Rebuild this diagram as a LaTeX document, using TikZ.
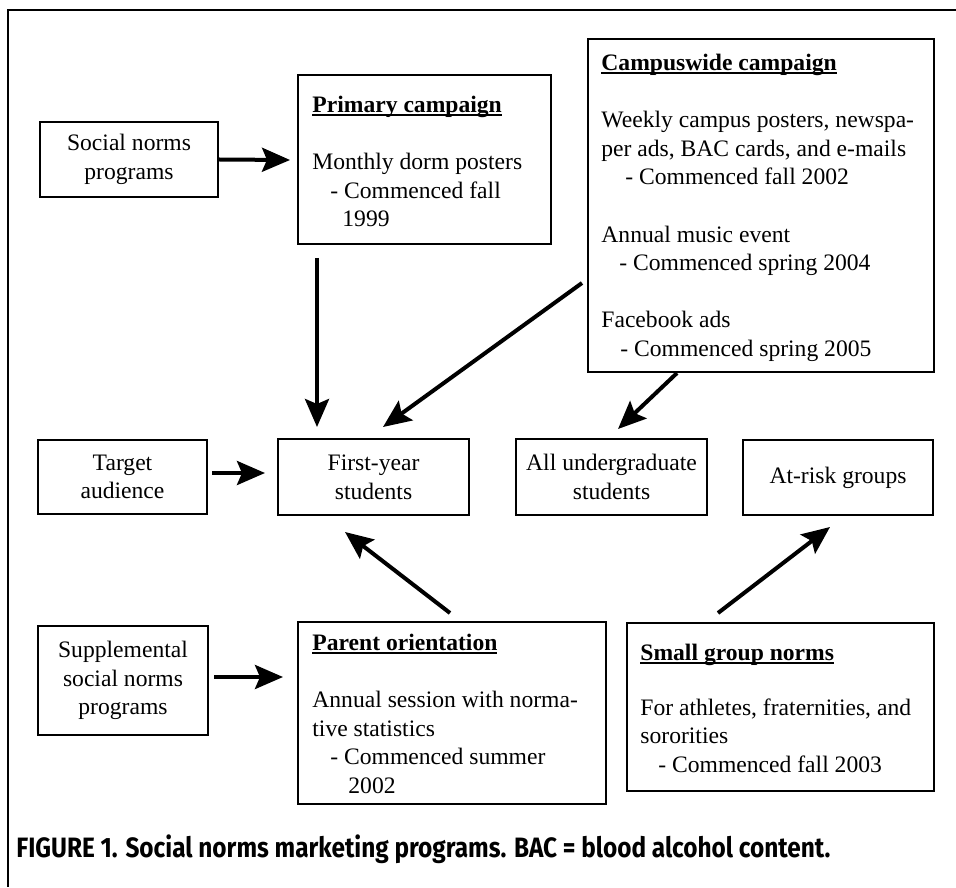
\documentclass[tikz,border=0pt]{standalone}
\usepackage{fontspec}
\setmainfont{Liberation Serif}
\newfontfamily\capfont{Fira Sans}
\usetikzlibrary{arrows.meta}
\newcommand\myul[1]{\setbox0\hbox{#1}\rlap{\rule[-1.6pt]{\wd0}{0.6pt}}\box0}
\begin{document}
\begin{tikzpicture}[x=0.5pt,y=-0.5pt,
  every node/.style={font=\fontsize{11.8}{14.3}\selectfont},
  box/.style={draw, line width=1.2pt, inner sep=0pt, align=center},
  txt/.style={anchor=north west, inner sep=0pt, align=left},
  arr/.style={line width=2pt, -{Stealth[length=14pt,width=12pt,inset=2.5pt]}}]
\useasboundingbox (0,0) rectangle (956,887);
% frame
\coordinate (ftr) at (956,10);
\coordinate (ftl) at (8,10);
\coordinate (fbl) at (8,887);
\draw[line width=1pt] (ftr) -- (ftl) -- (fbl);
% boxes
\node[box, minimum width=89pt, minimum height=37.5pt] (soc) at (129,159.5) {Social norms\\programs};
\node[box, minimum width=126.5pt, minimum height=84.5pt] (prim) at (424.5,159.5) {};
\node[box, minimum width=173pt, minimum height=166.5pt] (camp) at (761,205.5) {};
\node[box, minimum width=84.5pt, minimum height=37pt] (target) at (122.5,477) {Target\\audience};
\node[box, minimum width=95.5pt, minimum height=38pt] (first) at (373.5,477) {First-year\\students};
\node[box, minimum width=95.5pt, minimum height=38pt] (allug) at (611.5,477) {All undergraduate\\students};
\node[box, minimum width=95pt, minimum height=37.5pt] (atrisk) at (838,477.5) {At-risk groups};
\node[box, minimum width=85pt, minimum height=54.5pt] (supp) at (123,680.5) {Supplemental\\social norms\\programs};
\node[box, minimum width=154pt, minimum height=91pt] (parent) at (452,713) {};
\node[box, minimum width=153.5pt, minimum height=84pt] (small) at (780.5,707) {};
% box texts
\node[txt] (primtxt) at (312,94) {\rule{0pt}{9pt}\myul{\textbf{Primary campaign}}\\[14.3pt]
Monthly dorm posters\\
\hspace*{9pt}- Commenced fall\\
\hspace*{15pt}1999};
\node[txt] (camptxt) at (601,52) {\rule{0pt}{9pt}\myul{\textbf{Campuswide campaign}}\\[14.3pt]
Weekly campus posters, newspa-\\
per ads, BAC cards, and e-mails\\
\hspace*{12pt}- Commenced fall 2002\\[14.3pt]
Annual music event\\
\hspace*{9pt}- Commenced spring 2004\\[14.3pt]
Facebook ads\\
\hspace*{9.5pt}- Commenced spring 2005};
\node[txt] (partxt) at (312,632) {\rule{0pt}{9pt}\myul{\textbf{Parent orientation}}\\[14.3pt]
Annual session with norma-\\
tive statistics\\
\hspace*{9pt}- Commenced summer\\
\hspace*{18pt}2002};
\node[txt] (smalltxt) at (640,642) {\rule{0pt}{9pt}\myul{\textbf{Small group norms}}\\[13pt]
For athletes, fraternities, and\\
sororities\\
\hspace*{9pt}- Commenced fall 2003};
% arrow end points
\coordinate (a1e) at (290,160);
\coordinate (a2s) at (317,258);
\coordinate (a2e) at (317,427);
\coordinate (a3s) at (582,283);
\coordinate (a3e) at (383,427);
\coordinate (a4s) at (677,373);
\coordinate (a4e) at (618,429);
\coordinate (a5s) at (212,473);
\coordinate (a5e) at (265,473);
\coordinate (a6s) at (450,613);
\coordinate (a6e) at (345,532);
\coordinate (a7s) at (718,613);
\coordinate (a7e) at (830,527);
\coordinate (a8s) at (214,677);
\coordinate (a8e) at (283,677);
\draw[arr] (soc.east) -- (a1e);
\draw[arr] (a2s) -- (a2e);
\draw[arr] (a3s) -- (a3e);
\draw[arr] (a4s) -- (a4e);
\draw[arr] (a5s) -- (a5e);
\draw[arr] (a6s) -- (a6e);
\draw[arr] (a7s) -- (a7e);
\draw[arr] (a8s) -- (a8e);
% caption
\node[anchor=base west, inner sep=0pt] (cap) at (16,857) {\resizebox{407pt}{\height}{\capfont\bfseries\fontsize{14}{16}\selectfont FIGURE 1. Social norms marketing programs. BAC = blood alcohol content.}};
\end{tikzpicture}
\end{document}
